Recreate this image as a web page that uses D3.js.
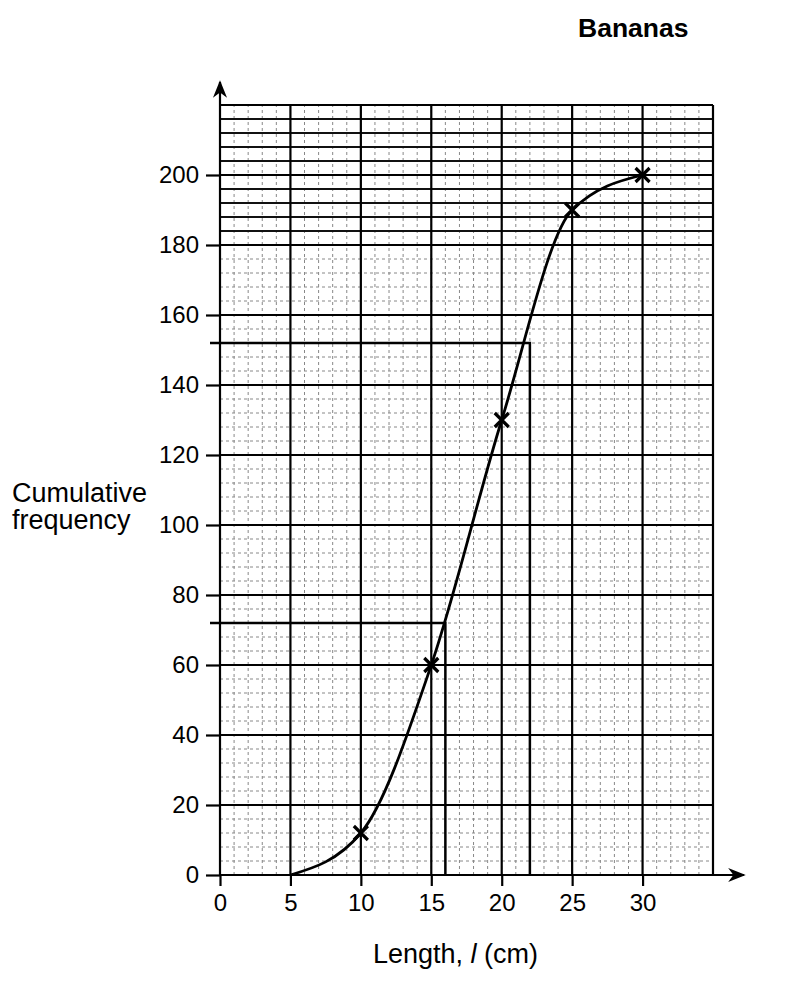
<!DOCTYPE html>
<html>
<head>
<meta charset="utf-8">
<script src="https://d3js.org/d3.v7.min.js"></script>
<style>
  body { margin: 0; background: #fff; }
  text { font-family: "Liberation Sans", Arial, sans-serif; fill: #000; }
</style>
</head>
<body>
<div id="graph"></div>
<script>

// data
var lengths = [5, 10, 15, 20, 25, 30];
var cumFreq = [0, 12, 60, 130, 190, 200];
var plotted = [10, 15, 20, 25, 30];           // points marked with a cross
var readLines = [{f: 72, l: 16}, {f: 152, l: 22}]; // reading lines
var xTicks = [0, 5, 10, 15, 20, 25, 30];
var yTicks = [0, 20, 40, 60, 80, 100, 120, 140, 160, 180, 200];

var width = 800, height = 986;

var svg = d3.select("#graph")
  .append("svg")
    .attr("width", width)
    .attr("height", height);

var x = d3.scaleLinear().domain([0, 35]).range([220, 713]);
var y = d3.scaleLinear().domain([0, 220]).range([875, 105]);

// minor grid, dotted
var grid = svg.append("g");
grid.selectAll(".vminor")
  .data(d3.range(0, 36, 1))
  .enter().append("line")
    .attr("x1", function(d) { return x(d); })
    .attr("x2", function(d) { return x(d); })
    .attr("y1", y(0)).attr("y2", y(220))
    .style("stroke", "#888")
    .style("stroke-width", 1)
    .style("stroke-dasharray", "3,3");

grid.selectAll(".hminor")
  .data(d3.range(0, 221, 4))
  .enter().append("line")
    .attr("x1", x(0)).attr("x2", x(35))
    .attr("y1", function(d) { return y(d); })
    .attr("y2", function(d) { return y(d); })
    .style("stroke", "#888")
    .style("stroke-width", 1)
    .style("stroke-dasharray", "3,3");

// solid lines every 4 in the top band
grid.selectAll(".hband")
  .data(d3.range(180, 221, 4))
  .enter().append("line")
    .attr("x1", x(0)).attr("x2", x(35))
    .attr("y1", function(d) { return y(d); })
    .attr("y2", function(d) { return y(d); })
    .style("stroke", "#111")
    .style("stroke-width", 1.8);

// major grid
grid.selectAll(".vmajor")
  .data(d3.range(5, 36, 5))
  .enter().append("line")
    .attr("x1", function(d) { return x(d); })
    .attr("x2", function(d) { return x(d); })
    .attr("y1", y(0)).attr("y2", y(220))
    .style("stroke", "#000")
    .style("stroke-width", 2.2);

grid.selectAll(".hmajor")
  .data(d3.range(20, 221, 20))
  .enter().append("line")
    .attr("x1", x(0)).attr("x2", x(35))
    .attr("y1", function(d) { return y(d); })
    .attr("y2", function(d) { return y(d); })
    .style("stroke", "#000")
    .style("stroke-width", 2.2);

// axes with arrows
svg.append("defs").append("marker")
    .attr("id", "arrow")
    .attr("viewBox", "0 0 10 10")
    .attr("refX", 9).attr("refY", 5)
    .attr("markerWidth", 9).attr("markerHeight", 8)
    .attr("markerUnits", "strokeWidth")
    .attr("orient", "auto")
  .append("path")
    .attr("d", "M0,1 L10,5 L0,9 L3,5 Z")
    .style("fill", "#000");

svg.append("line")
    .attr("x1", x(0)).attr("x2", 744)
    .attr("y1", y(0)).attr("y2", y(0))
    .style("stroke", "#000").style("stroke-width", 2.2)
    .attr("marker-end", "url(#arrow)");

svg.append("line")
    .attr("x1", x(0)).attr("x2", x(0))
    .attr("y1", y(0)).attr("y2", 82)
    .style("stroke", "#000").style("stroke-width", 2.2)
    .attr("marker-end", "url(#arrow)");

var xAxis = svg.append("g")
    .attr("transform", "translate(0," + y(0) + ")")
    .call(d3.axisBottom(x).tickValues(xTicks).tickSize(11).tickPadding(8));
var yAxis = svg.append("g")
    .attr("transform", "translate(" + x(0) + ",0)")
    .call(d3.axisLeft(y).tickValues(yTicks).tickSize(14).tickPadding(7));

[xAxis, yAxis].forEach(function(a) {
  a.select(".domain").remove();
  a.selectAll(".tick line").style("stroke", "#000").style("stroke-width", 2.2);
  a.selectAll(".tick text")
    .style("font-family", "'Liberation Sans', Arial, sans-serif")
    .style("font-size", "24px")
    .style("fill", "#000");
});

// reading lines
readLines.forEach(function(r) {
  svg.append("polyline")
    .attr("points", [[x(0) - 10, y(r.f)], [x(r.l), y(r.f)], [x(r.l), y(0)]].join(" "))
    .style("fill", "none")
    .style("stroke", "#000")
    .style("stroke-width", 2.5);
});

// cumulative frequency curve
var pts = lengths.map(function(d, i) { return [d, cumFreq[i]]; });
var line = d3.line()
    .x(function(d) { return x(d[0]); })
    .y(function(d) { return y(d[1]); })
    .curve(d3.curveMonotoneX);

svg.append("path")
    .datum(pts)
    .attr("d", line)
    .style("fill", "none")
    .style("stroke", "#000")
    .style("stroke-width", 2.8);

// crosses
var crosses = pts.filter(function(p) { return plotted.indexOf(p[0]) >= 0; });
svg.selectAll(".cross")
  .data(crosses)
  .enter().append("path")
    .attr("d", function(p) {
      var cx = x(p[0]), cy = y(p[1]), s = 7;
      return "M" + (cx - s) + "," + (cy - s) + "L" + (cx + s) + "," + (cy + s) +
             "M" + (cx - s) + "," + (cy + s) + "L" + (cx + s) + "," + (cy - s);
    })
    .style("stroke", "#000")
    .style("stroke-width", 3.2);

// labels
svg.append("text")
    .attr("x", 578).attr("y", 37)
    .style("font-size", "26.5px")
    .style("font-weight", "bold")
    .text("Bananas");

svg.append("text")
    .attr("x", 12).attr("y", 502)
    .style("font-size", "27px")
    .text("Cumulative");
svg.append("text")
    .attr("x", 12).attr("y", 529)
    .style("font-size", "27px")
    .text("frequency");

var xl = svg.append("text")
    .attr("x", 373).attr("y", 963)
    .style("font-size", "27px");
xl.append("tspan").text("Length, ");
xl.append("tspan").style("font-style", "italic").text("l");
xl.append("tspan").text(" (cm)");

</script>
</body>
</html>
